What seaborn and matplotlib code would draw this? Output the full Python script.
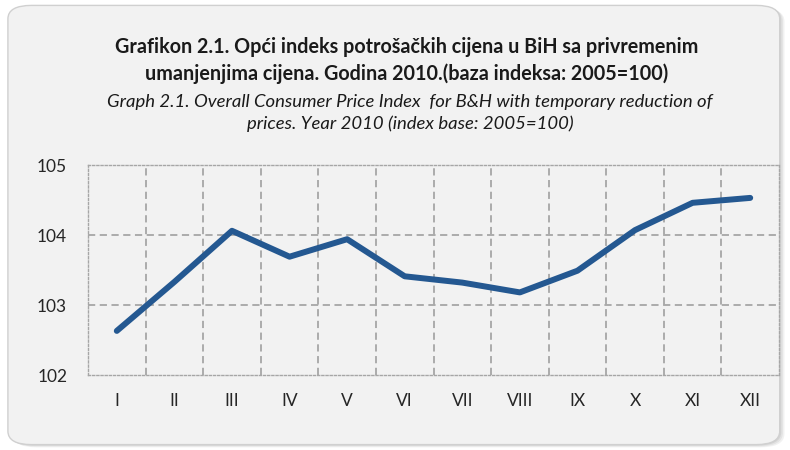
import matplotlib
matplotlib.use("Agg")
import matplotlib.pyplot as plt
import seaborn as sns
import pandas as pd
from matplotlib.patches import FancyBboxPatch

months = ["I", "II", "III", "IV", "V", "VI", "VII", "VIII", "IX", "X", "XI", "XII"]
index_values = [102.63, 103.33, 104.06, 103.69, 103.94, 103.41, 103.32, 103.18, 103.49, 104.07, 104.46, 104.53]
y_ticks = [102, 103, 104, 105]

title_bs = "Grafikon 2.1. Opći indeks potrošačkih cijena u BiH sa privremenim\numanjenjima cijena. Godina 2010.(baza indeksa: 2005=100)"
title_en = "Graph 2.1. Overall Consumer Price Index  for B&H with temporary reduction of\nprices. Year 2010 (index base: 2005=100)"

sns.set_theme(style="white")
plt.rcParams["font.family"] = ["Lato", "DejaVu Sans"]

df = pd.DataFrame({"month": months, "value": index_values})

fig = plt.figure(figsize=(7.9, 4.5), dpi=100)
fig.patch.set_facecolor("white")

# rounded chart-area box with soft shadow
for off, alpha in [(0.006, 0.10), (0.004, 0.12), (0.002, 0.15)]:
    sh = FancyBboxPatch((0.010 + off, 0.012 - off), 0.977, 0.976,
                        boxstyle="round,pad=0,rounding_size=0.03",
                        transform=fig.transFigure, facecolor="#7f7f7f",
                        edgecolor="none", alpha=alpha, zorder=-3)
    fig.patches.append(sh)
box = FancyBboxPatch((0.010, 0.012), 0.977, 0.976,
                     boxstyle="round,pad=0,rounding_size=0.03",
                     transform=fig.transFigure, facecolor="#f2f2f2",
                     edgecolor="#d0d0d0", linewidth=1.0, zorder=-2)
fig.patches.append(box)

ax = fig.add_axes([88 / 790, 1 - 375 / 450, (779 - 88) / 790, (375 - 165) / 450])
ax.set_zorder(2)
ax.set_facecolor("#f2f2f2")

sns.lineplot(data=df, x="month", y="value", ax=ax, color="#245891",
             linewidth=4.3, sort=False, solid_capstyle="round", solid_joinstyle="round", zorder=3)

ax.set_xlim(-0.5, len(months) - 0.5)
ax.set_ylim(102, 105)
ax.set_yticks(y_ticks)
ax.set_yticklabels([str(t) for t in y_ticks])
ax.set_xticks(range(len(months)))
ax.set_xticklabels(months)

ax.grid(False)
for yv in y_ticks[1:-1]:
    ax.axhline(yv, color="#a6a6a6", linestyle=(0, (4, 2.5)), linewidth=1.3, zorder=1)
for xv in [i + 0.5 for i in range(len(months) - 1)]:
    ax.axvline(xv, color="#a6a6a6", linestyle=(0, (4, 2.5)), linewidth=1.3, zorder=1)

for s in ax.spines.values():
    s.set_visible(True)
    s.set_color("#a6a6a6")
    s.set_linestyle((0, (1.5, 1.5)))
    s.set_linewidth(1.0)

ax.tick_params(axis="both", which="both", length=0, labelsize=12.5, labelcolor="#262626")
ax.tick_params(axis="x", pad=13)
ax.tick_params(axis="y", pad=15)
ax.set_xlabel("")
ax.set_ylabel("")

fig.text(407 / 790, 1 - 60.5 / 450, title_bs, ha="center", va="center", fontsize=14.2,
         fontweight="bold", color="#1a1a1a", linespacing=1.38)
fig.text(410 / 790, 1 - 113 / 450, title_en, ha="center", va="center", fontsize=13.3,
         fontstyle="italic", color="#1a1a1a", linespacing=1.47)

fig.savefig("out.png", dpi=100, facecolor=fig.get_facecolor())
